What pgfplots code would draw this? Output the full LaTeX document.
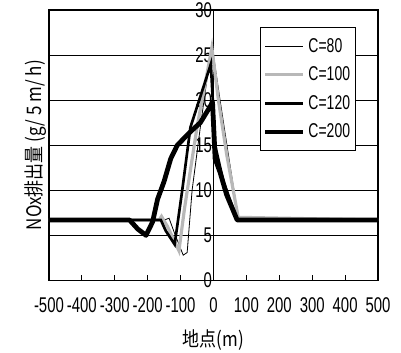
\documentclass[border=0pt]{standalone}
\usepackage{pgfplots}
\pgfplotsset{compat=1.18}
\usepackage{fontspec}
\setmainfont{Liberation Sans}[FakeStretch=0.7]
\newfontfamily\cjk{Noto Sans CJK JP}[FakeStretch=0.85]
\begin{document}
\begin{tikzpicture}
\begin{axis}[
  name=ax,
  scale only axis,
  width=247pt, height=203pt,
  xmin=-500, xmax=500, ymin=0, ymax=30,
  xtick={-500,-400,...,500},
  ytick={0,5,...,30},
  ymajorgrids,
  major grid style={black, line width=0.8pt},
  axis line style={line width=1.2pt},
  tick style={black, line width=0.8pt},
  xtick pos=bottom, ytick pos=left,
  xtick align=inside,
  major tick length=4pt,
  /pgf/number format/assume math mode=true,
  every tick label/.append style={font=\fontsize{16}{18}\selectfont},
  xticklabel style={yshift=-9pt},
  yticklabel style={xshift=123.5pt, inner sep=1pt},
  xlabel={\cjk\fontsize{15}{17}\selectfont 地点(m)},
  ylabel={\cjk\fontsize{15}{17}\selectfont NOx排出量 (g/ 5 m/ h)},
  xlabel style={yshift=-6pt},
  ylabel style={yshift=-2pt},
  legend style={at={(0.641,0.937)}, anchor=north west, draw=black, line width=0.8pt,
    font=\fontsize{15}{17}\selectfont, row sep=5.5pt, inner xsep=2pt, inner ysep=6pt},
  legend cell align=left,
  legend image code/.code={\draw[#1] (0cm,0cm) -- (1.0cm,0cm);},
]
\draw[black, line width=1.2pt] (axis cs:0,0) -- (axis cs:0,30);
\addplot[black, line width=0.6pt] coordinates {
(-500,6.7) (-150,6.7) (-135,6.9) (-118,5.2) (-92,2.8) (-80,3.1) (-65,10) (-40,17) (-5,26.2) (20,20) (45,14) (75,7) (80,6.7) (500,6.7)};
\addlegendentry{C=80}
\addplot[black!28, line width=2.4pt] coordinates {
(-500,6.7) (-165,6.7) (-158,7.1) (-140,6) (-105,3.3) (-88,8) (-50,17) (-5,25.8) (15,20) (40,14) (75,7) (500,6.7)};
\addlegendentry{C=100}
\addplot[black, line width=2pt] coordinates {
(-500,6.7) (-160,6.7) (-145,5.5) (-118,4) (-95,10) (-70,17) (-8,24) (5,15) (30,11) (72,6.7) (500,6.7)};
\addlegendentry{C=120}
\addplot[black, line width=3.6pt, line join=round] coordinates {
(-500,6.7) (-255,6.7) (-230,5.7) (-205,5) (-185,6.5) (-170,9) (-150,11) (-130,13.5) (-110,15) (-70,16.5) (-40,17.5) (-10,19.3) (-3,19.8) (5,13.5) (20,12) (40,9.5) (72,6.7) (500,6.7)};
\addlegendentry{C=200}
\end{axis}
\pgfresetboundingbox
\path[use as bounding box] ([xshift=-36.75pt,yshift=-54pt]ax.south west) rectangle ([xshift=17.25pt,yshift=7.5pt]ax.north east);
\end{tikzpicture}
\end{document}
